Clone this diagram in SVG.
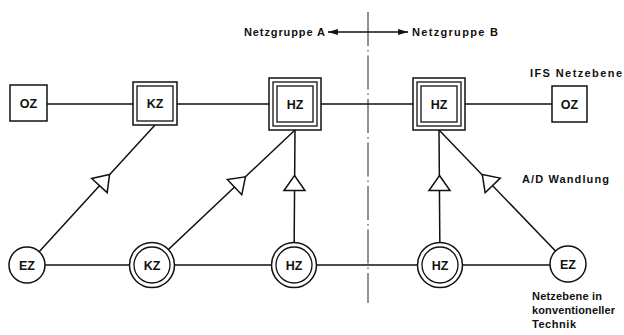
<svg xmlns="http://www.w3.org/2000/svg" width="624" height="335" viewBox="0 0 624 335">
<style>
.ln{stroke:#111;stroke-width:1.5;fill:none}
.bx{stroke:#111;stroke-width:1.5;fill:#fff}
.bi{stroke:#111;stroke-width:1.3;fill:none}
.t{font-family:"Liberation Sans",Arial,sans-serif;font-weight:bold;font-size:11px;fill:#111}
.c{text-anchor:middle}
.n{font-size:12.5px}
.dd{stroke:#222;stroke-width:1;fill:none;stroke-dasharray:34 4 1.5 4}
</style>
<defs>
<path id="tri" d="M0,-7.5 L10.5,7.5 L-10.5,7.5 Z" fill="#fff" stroke="#111" stroke-width="1.5" stroke-linejoin="miter"/>
<marker id="ah" viewBox="0 0 10 6" refX="10" refY="3" markerWidth="10" markerHeight="6" markerUnits="userSpaceOnUse" orient="auto">
<path d="M0,0 L10,3 L0,6 Z" fill="#111"/>
</marker>
</defs>
<rect width="624" height="335" fill="#fff"/>
<g id="divider">
<line class="dd" x1="368" y1="12" x2="368" y2="303"/>
<line class="ln" x1="368" y1="32" x2="328" y2="32" stroke-width="1.2" marker-end="url(#ah)"/>
<line class="ln" x1="368" y1="32" x2="408" y2="32" stroke-width="1.2" marker-end="url(#ah)"/>
<text class="t" x="244" y="36" textLength="81">Netzgruppe A</text>
<text class="t" x="412" y="36" textLength="86">Netzgruppe B</text>
</g>
<g id="connectors">
<line class="ln" x1="28" y1="104" x2="569" y2="104"/>
<line class="ln" x1="27" y1="265" x2="568" y2="265"/>
<line class="ln" x1="27" y1="265" x2="155" y2="125"/>
<line class="ln" x1="152" y1="265" x2="295" y2="130"/>
<line class="ln" x1="295" y1="130" x2="294" y2="265"/>
<line class="ln" x1="439" y1="130" x2="440" y2="265"/>
<line class="ln" x1="439" y1="130" x2="568" y2="264"/>
<use href="#tri" transform="translate(104.5,180) rotate(42.4)"/>
<use href="#tri" transform="translate(240,182) rotate(46.6)"/>
<use href="#tri" transform="translate(294.5,183)"/>
<use href="#tri" transform="translate(439.5,183)"/>
<use href="#tri" transform="translate(487.5,180) rotate(-43.9)"/>
</g>
<g id="oz-left">
<rect class="bx" x="10" y="85" width="37" height="36"/>
<text class="t c n" x="28.5" y="108">OZ</text>
</g>
<g id="kz-top">
<rect class="bx" x="133" y="82" width="44" height="43"/>
<rect class="bi" x="137" y="86" width="36" height="35"/>
<text class="t c n" x="155" y="108">KZ</text>
</g>
<g id="hz-top-left">
<rect class="bx" x="269" y="78" width="52" height="52"/>
<rect class="bi" x="273" y="82" width="44" height="44"/>
<rect class="bi" x="277" y="86" width="36" height="36"/>
<text class="t c n" x="295" y="108.5">HZ</text>
</g>
<g id="hz-top-right">
<rect class="bx" x="413" y="78" width="52" height="52"/>
<rect class="bi" x="417" y="82" width="44" height="44"/>
<rect class="bi" x="421" y="86" width="36" height="36"/>
<text class="t c n" x="439" y="108.5">HZ</text>
</g>
<g id="oz-right">
<rect class="bx" x="552" y="86" width="35" height="36"/>
<text class="t c n" x="569.5" y="109">OZ</text>
<text class="t" x="530" y="77" textLength="92">IFS  Netzebene</text>
</g>
<g id="ez-left">
<circle class="bx" cx="27" cy="265" r="18"/>
<text class="t c n" x="27" y="269.5">EZ</text>
</g>
<g id="kz-bottom">
<circle class="bx" cx="152" cy="265" r="22.5"/>
<circle class="bi" cx="152" cy="265" r="18"/>
<text class="t c n" x="152" y="269.5">KZ</text>
</g>
<g id="hz-bottom-left">
<circle class="bx" cx="294" cy="265" r="22.5"/>
<circle class="bi" cx="294" cy="265" r="18"/>
<text class="t c n" x="294" y="269.5">HZ</text>
</g>
<g id="hz-bottom-right">
<circle class="bx" cx="440" cy="265" r="22.5"/>
<circle class="bi" cx="440" cy="265" r="18"/>
<text class="t c n" x="440" y="269.5">HZ</text>
</g>
<g id="ez-right">
<circle class="bx" cx="568" cy="264" r="18"/>
<text class="t c n" x="568" y="268.5">EZ</text>
</g>
<g id="labels">
<text class="t" x="522" y="183" textLength="87">A/D  Wandlung</text>
<text class="t" x="532" y="300" textLength="70">Netzebene  in</text>
<text class="t" x="532" y="314" textLength="83">konventioneller</text>
<text class="t" x="532" y="328" textLength="44">Technik</text>
</g>
</svg>
